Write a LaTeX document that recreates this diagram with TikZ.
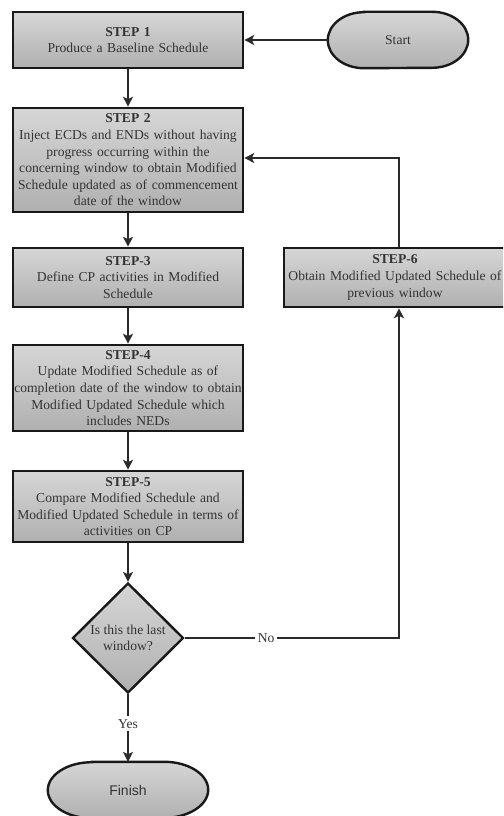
\documentclass[tikz,border=0pt]{standalone}
\usepackage{fontspec}
\setmainfont{Liberation Serif}
\newfontfamily\flowsans{Liberation Sans}
\usetikzlibrary{arrows.meta,shapes.geometric}

\definecolor{inktext}{HTML}{333333}
\definecolor{inkline}{HTML}{2A2A2A}
\definecolor{shadetop}{HTML}{D6D6D6}
\definecolor{shadebot}{HTML}{B0B0B0}

\tikzset{
  stepbox/.style={draw=black!90, line width=2.6pt, rectangle,
    top color=shadetop, bottom color=shadebot,
    minimum width=230pt, inner sep=0pt, text width=230pt, align=center,
    font=\fontsize{13.6}{16.6}\selectfont, text=inktext},
  terminal/.style={rectangle, minimum height=56pt, inner sep=0pt, text=inktext},
  termoutline/.style={draw=black!90, line width=2.4pt,
    top color=shadetop, bottom color=shadebot},
  decision/.style={draw=black!90, line width=2.4pt, diamond,
    top color=shadetop, bottom color=shadebot,
    minimum width=111pt, minimum height=110pt, inner sep=0pt, align=center,
    font=\fontsize{13.6}{16.6}\selectfont, text=inktext},
  flow/.style={draw=inkline, line width=1.3pt,
    -{Stealth[length=10pt,width=10pt,inset=2.5pt]}},
  flowlabel/.style={fill=white, inner sep=3pt, text=inktext,
    font=\fontsize{13.6}{16}\selectfont}
}

% terminator outline: flat top and bottom, half-elliptical ends
\newcommand{\terminatorpath}[3]{% node, end x-radius, half height
  \path[termoutline]
    ([xshift=#2]#1.north west) -- ([xshift=-#2]#1.north east)
    arc[start angle=90, end angle=-90, x radius=#2, y radius=#3]
    -- ([xshift=#2]#1.south west)
    arc[start angle=270, end angle=90, x radius=#2, y radius=#3]
    -- cycle;}

\begin{document}
\begin{tikzpicture}[x=1pt,y=-1pt]
  \clip (0,0) rectangle (503,816);
  \useasboundingbox (0,0) rectangle (503,816);
  \fill[white] (0,0) rectangle (503,816);

  % process steps
  \node[stepbox, minimum height=56pt] (s1) at (128,40)
    {{\bfseries STEP 1}\\Produce a Baseline Schedule};
  \node[stepbox, minimum height=104pt] (s2) at (128,160)
    {{\bfseries STEP 2}\\Inject ECDs and ENDs without having\\progress occurring within the\\concerning window to obtain Modified\\Schedule updated as of commencement\\date of the window};
  \node[stepbox, minimum height=59pt] (s3) at (128,277.5)
    {{\bfseries STEP-3}\\Define CP activities in Modified\\Schedule};
  \node[stepbox, minimum height=86pt] (s4) at (128,388)
    {{\bfseries STEP-4}\\Update Modified Schedule as of\\completion date of the window to obtain\\Modified Updated Schedule which\\includes NEDs};
  \node[stepbox, minimum height=71pt] (s5) at (128,506.5)
    {{\bfseries STEP-5}\\Compare Modified Schedule and\\Modified Updated Schedule in terms of\\activities on CP};
  % step 6 runs past the right edge; its label is nudged left to stay readable
  \node[stepbox, minimum height=59pt] (s6) at (399,277.5) {};
  \node[text width=230pt, align=center, inner sep=0pt, text=inktext,
        font=\fontsize{13.6}{16.6}\selectfont] (s6label) at ([xshift=-4pt]s6.center)
    {{\bfseries STEP-6}\\Obtain Modified Updated Schedule of\\previous window};

  % decision
  \node[decision] (dec) at (128,638) {Is this the last\\window?};

  % terminals: outline first, then the label on top
  \node[terminal, minimum width=140pt] (start) at (398,40) {};
  \terminatorpath{start}{36pt}{28pt}
  \node[text=inktext, font=\fontsize{13.6}{16}\selectfont] (startlabel) at (start) {Start};

  \node[terminal, minimum width=160pt] (finish) at (128,790) {};
  \terminatorpath{finish}{44pt}{28pt}
  \node[text=inktext, font=\flowsans\fontsize{14}{16}\selectfont] (finishlabel) at (finish) {Finish};

  % connectors
  \draw[flow] (start.west) -- (s1.east |- start.west);
  \draw[flow] (s1) -- (s2);
  \draw[flow] (s2) -- (s3);
  \draw[flow] (s3) -- (s4);
  \draw[flow] (s4) -- (s5);
  \draw[flow] (s5) -- (dec);
  \draw[flow] (dec.south) -- node[flowlabel, pos=0.44] {Yes} (finish.north);
  \draw[flow] (dec.east) -| node[flowlabel, pos=0.19] {No} (s6.south);
  \draw[flow] (s6.north) |- ([yshift=2pt]s2.east);
\end{tikzpicture}
\end{document}
